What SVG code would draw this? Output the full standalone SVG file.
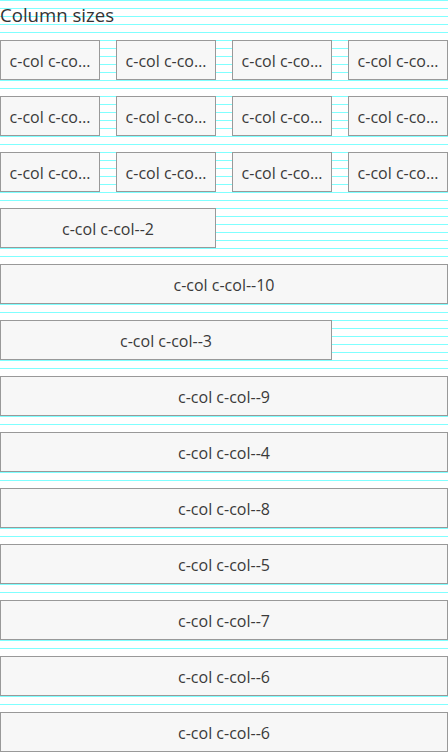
<svg xmlns="http://www.w3.org/2000/svg" width="448" height="752" viewBox="0 0 448 752">
<style>
.box{fill:#f7f7f7;stroke:#999;stroke-width:1}
.t{font-family:"Open Sans","Noto Sans",sans-serif;font-size:16px;fill:#3a3a3a;text-anchor:middle}
.h{font-family:"Open Sans","Noto Sans",sans-serif;font-size:18.6px;font-weight:500;fill:#333}
</style>
<defs>
<pattern id="grid" patternUnits="userSpaceOnUse" width="448" height="8">
<rect x="0" y="0" width="448" height="1" fill="#80ffff"/>
</pattern>
</defs>
<rect width="448" height="752" fill="#fff"/>
<rect id="baseline-grid" width="448" height="752" fill="url(#grid)"/>
<text id="title" class="h" x="0" y="22">Column sizes</text>
<g id="row1">
<g id="r1c1"><rect class="box" x="0.5" y="40.5" width="99" height="39"/><text class="t" x="50" y="66.5">c-col c-co…</text></g>
<g id="r1c2"><rect class="box" x="116.5" y="40.5" width="99" height="39"/><text class="t" x="166" y="66.5">c-col c-co…</text></g>
<g id="r1c3"><rect class="box" x="232.5" y="40.5" width="99" height="39"/><text class="t" x="282" y="66.5">c-col c-co…</text></g>
<g id="r1c4"><rect class="box" x="348.5" y="40.5" width="99" height="39"/><text class="t" x="398" y="66.5">c-col c-co…</text></g>
</g>
<g id="row2">
<g id="r2c1"><rect class="box" x="0.5" y="96.5" width="99" height="39"/><text class="t" x="50" y="122.5">c-col c-co…</text></g>
<g id="r2c2"><rect class="box" x="116.5" y="96.5" width="99" height="39"/><text class="t" x="166" y="122.5">c-col c-co…</text></g>
<g id="r2c3"><rect class="box" x="232.5" y="96.5" width="99" height="39"/><text class="t" x="282" y="122.5">c-col c-co…</text></g>
<g id="r2c4"><rect class="box" x="348.5" y="96.5" width="99" height="39"/><text class="t" x="398" y="122.5">c-col c-co…</text></g>
</g>
<g id="row3">
<g id="r3c1"><rect class="box" x="0.5" y="152.5" width="99" height="39"/><text class="t" x="50" y="178.5">c-col c-co…</text></g>
<g id="r3c2"><rect class="box" x="116.5" y="152.5" width="99" height="39"/><text class="t" x="166" y="178.5">c-col c-co…</text></g>
<g id="r3c3"><rect class="box" x="232.5" y="152.5" width="99" height="39"/><text class="t" x="282" y="178.5">c-col c-co…</text></g>
<g id="r3c4"><rect class="box" x="348.5" y="152.5" width="99" height="39"/><text class="t" x="398" y="178.5">c-col c-co…</text></g>
</g>
<g id="col2"><rect class="box" x="0.5" y="208.5" width="215" height="39"/><text class="t" x="108" y="234.5">c-col c-col--2</text></g>
<g id="col10"><rect class="box" x="0.5" y="264.5" width="447" height="39"/><text class="t" x="224" y="290.5">c-col c-col--10</text></g>
<g id="col3"><rect class="box" x="0.5" y="320.5" width="331" height="39"/><text class="t" x="166" y="346.5">c-col c-col--3</text></g>
<g id="col9"><rect class="box" x="0.5" y="376.5" width="447" height="39"/><text class="t" x="224" y="402.5">c-col c-col--9</text></g>
<g id="col4"><rect class="box" x="0.5" y="432.5" width="447" height="39"/><text class="t" x="224" y="458.5">c-col c-col--4</text></g>
<g id="col8"><rect class="box" x="0.5" y="488.5" width="447" height="39"/><text class="t" x="224" y="514.5">c-col c-col--8</text></g>
<g id="col5"><rect class="box" x="0.5" y="544.5" width="447" height="39"/><text class="t" x="224" y="570.5">c-col c-col--5</text></g>
<g id="col7"><rect class="box" x="0.5" y="600.5" width="447" height="39"/><text class="t" x="224" y="626.5">c-col c-col--7</text></g>
<g id="col6a"><rect class="box" x="0.5" y="656.5" width="447" height="39"/><text class="t" x="224" y="682.5">c-col c-col--6</text></g>
<g id="col6b"><rect class="box" x="0.5" y="712.5" width="447" height="39"/><text class="t" x="224" y="738.5">c-col c-col--6</text></g>
<g id="connectors"/>
</svg>
